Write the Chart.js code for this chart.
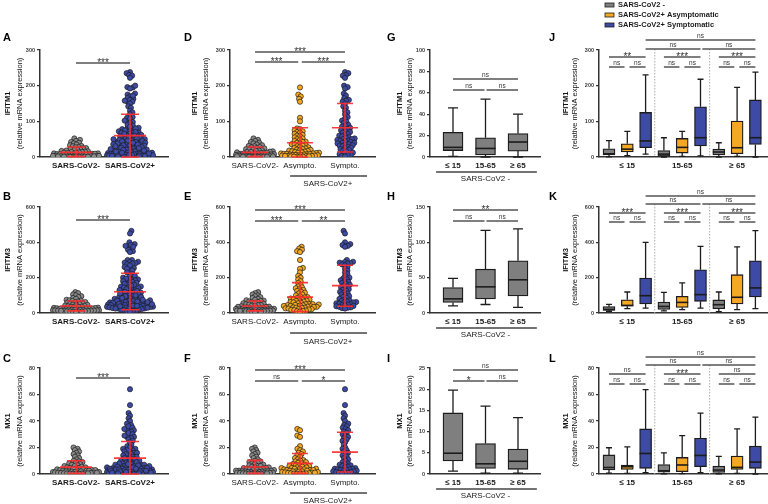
<!DOCTYPE html>
<html>
<head>
<meta charset="utf-8">
<title>IFITM1 / IFITM3 / MX1 expression</title>
<script src="https://cdn.jsdelivr.net/npm/chart.js@4.4.1/dist/chart.umd.min.js"></script>
<style>
  html, body { margin: 0; padding: 0; background: #fff; }
  body { position: relative; width: 768px; height: 504px; overflow: hidden; }
  canvas { position: absolute; }
</style>
</head>
<body>
<script>
// ---- Categories / labels ----
const cats2 = ['SARS-CoV2-', 'SARS-CoV2+'];
const cats3 = ['SARS-CoV2-', 'Asympto.', 'Sympto.'];
const ageGroups = ['≤ 15', '15-65', '≥ 65'];
const legendLabels = ['SARS-CoV2 -', 'SARS-CoV2+ Asymptomatic', 'SARS-CoV2+ Symptomatic'];
const posLabel = 'SARS-CoV2+';
const negLabel = 'SARS-CoV2 -';

// ---- Y ticks ----
const ifitm1Ticks = [0, 100, 200, 300];
const ifitm3Ticks = [0, 200, 400, 600];
const mx1Ticks = [0, 20, 40, 60, 80];
const ifitm1AgeTicks = [0, 20, 40, 60, 80, 100];
const ifitm3AgeTicks = [0, 50, 100, 150];
const mx1AgeTicks = [0, 5, 10, 15, 20, 25];

// ---- Individual values ----
const ifitm1Neg = [52, 48, 45, 42, 40, 38, 35, 33, 31, 30, 28, 27, 25, 24, 22, 21, 20, 19, 18, 17, 16, 15, 14, 14, 13, 12, 12, 11, 10, 10, 9, 9, 8, 8, 7, 7, 6, 6, 6, 5, 5, 5, 4, 4, 4, 3, 3, 3, 3, 2, 2, 2, 2, 1, 1, 1, 1, 1, 0.5, 0.5, 0.5, 0.3];
const ifitm1Asy = [195, 175, 170, 163, 155, 110, 100, 80, 78, 75, 72, 70, 68, 65, 62, 60, 58, 55, 52, 50, 48, 45, 43, 42, 40, 38, 36, 35, 33, 32, 30, 28, 27, 25, 24, 22, 21, 20, 19, 18, 17, 16, 15, 14, 13, 12, 12, 11, 10, 10, 9, 9, 8, 8, 7, 7, 6, 6, 5, 5, 5, 4, 4, 3, 3, 3, 2, 2, 2, 1, 1, 1, 0.5];
const ifitm1Sym = [238, 235, 230, 228, 222, 200, 196, 192, 178, 172, 165, 160, 158, 155, 150, 142, 138, 130, 125, 120, 112, 108, 102, 98, 95, 90, 88, 85, 82, 80, 78, 75, 72, 70, 68, 65, 62, 60, 58, 55, 54, 52, 50, 50, 48, 46, 45, 44, 42, 40, 40, 38, 36, 35, 33, 32, 30, 28, 26, 25, 22, 20, 18, 15, 12, 10, 8, 6, 5, 3, 2];

const ifitm3Neg = [118, 112, 105, 100, 95, 90, 85, 80, 75, 72, 70, 68, 65, 62, 60, 58, 55, 52, 50, 48, 46, 44, 42, 40, 38, 36, 35, 34, 32, 30, 29, 28, 27, 26, 25, 24, 23, 22, 21, 20, 20, 19, 18, 18, 17, 16, 16, 15, 15, 14, 14, 13, 12, 12, 11, 10, 10, 9, 8, 8, 7, 6];
const ifitm3Asy = [375, 365, 358, 350, 345, 300, 255, 250, 230, 210, 200, 190, 180, 170, 160, 150, 145, 140, 135, 130, 125, 120, 115, 110, 105, 100, 95, 90, 88, 85, 82, 80, 78, 75, 72, 70, 68, 65, 62, 60, 58, 55, 52, 50, 50, 48, 46, 45, 44, 42, 40, 40, 38, 36, 35, 34, 32, 30, 30, 28, 26, 25, 24, 22, 20, 18, 16, 14, 12, 10, 8];
const ifitm3Sym = [465, 450, 400, 390, 385, 380, 375, 300, 290, 288, 285, 282, 280, 275, 270, 260, 250, 240, 230, 220, 210, 200, 195, 190, 185, 180, 175, 170, 165, 160, 155, 150, 145, 140, 135, 130, 125, 120, 115, 110, 105, 100, 95, 90, 85, 80, 75, 70, 68, 65, 62, 60, 58, 55, 52, 50, 48, 45, 42, 40, 38, 35, 32, 30, 28, 25];

const mx1Neg = [20, 19, 18, 17, 16, 15, 14, 13, 12, 11, 10, 9.5, 9, 8.5, 8, 7.5, 7, 6.5, 6, 6, 5.5, 5, 5, 4.5, 4.5, 4, 4, 3.5, 3.5, 3, 3, 3, 2.5, 2.5, 2.5, 2, 2, 2, 2, 1.8, 1.5, 1.5, 1.5, 1.2, 1, 1, 1, 0.8, 0.8, 0.6, 0.5, 0.5, 0.4, 0.3, 0.3, 0.2, 0.2, 0.1];
const mx1Asy = [34, 33, 29, 28, 21, 19, 18, 17, 16, 15, 14, 13, 12, 11, 10.5, 10, 9.5, 9, 8.5, 8, 7.5, 7, 7, 6.5, 6, 6, 5.5, 5, 5, 4.5, 4.5, 4, 4, 4, 3.5, 3.5, 3, 3, 3, 2.5, 2.5, 2, 2, 2, 1.8, 1.5, 1.5, 1.2, 1, 1, 0.8, 0.6, 0.5, 0.4, 0.3, 0.2, 0.2, 0.1];
const mx1Sym = [64, 52, 46, 44, 42, 40, 38, 37, 36, 35, 34, 33, 32, 31, 30, 29, 28, 27, 26, 25, 24, 22, 20, 19, 18, 17, 16, 15, 14, 13, 12, 11, 10, 9, 8, 7.5, 7, 6.5, 6, 5.5, 5, 4.5, 4, 4, 3.5, 3.5, 3, 3, 2.5, 2.5, 2, 2, 1.5, 1.5, 1, 1, 0.5, 0.5];

// ---- Mean and SD bars [lower, mean, upper] ----
const errA = [[1, 13, 28], [0, 60, 120]];
const errD = [[1, 13, 28], [0, 40, 82], [14, 82, 150]];
const errB = [[12, 40, 68], [18, 120, 225]];
const errE = [[12, 40, 68], [8, 90, 172], [38, 155, 270]];
const errC = [[0.5, 5.2, 10], [0, 12, 24.5]];
const errF = [[0.5, 5.3, 10.3], [0.5, 8, 15.5], [1.5, 16.5, 31.5]];

// ---- Box plots [min, q1, median, q3, max] per age group ----
const ifitm1NegBox = [[0.5, 6, 9, 23, 46], [0, 2, 8, 18, 54], [0, 5.5, 14, 22, 40]];
const ifitm1AsyBox = [[4, 14, 22, 37, 72], [2, 11, 27, 52, 72], [2, 9, 26, 101, 195]];
const ifitm1SymBox = [[8, 26, 45, 125, 230], [3, 31, 54, 141, 218], [0, 35, 54, 160, 238]];
const ifitm3NegBox = [[10, 15, 20, 36, 49], [12, 20, 37, 62, 117], [8, 24, 47, 74, 119]];
const ifitm3AsyBox = [[25, 38, 43, 75, 119], [19, 32, 60, 94, 170], [19, 51, 89, 217, 374]];
const ifitm3SymBox = [[28, 51, 98, 198, 400], [28, 66, 104, 245, 377], [25, 91, 142, 296, 466]];
const mx1NegBox = [[0.7, 3.1, 4.9, 14.4, 19.8], [0.2, 1.3, 2.4, 7.2, 16], [0.2, 1.1, 3.0, 5.9, 13.3]];
const mx1AsyBox = [[0.5, 3.5, 5.5, 6.8, 20.5], [0.3, 1.8, 6.8, 12.5, 29], [0.5, 3.5, 5, 13.5, 34]];
const mx1SymBox = [[1, 4.3, 15.5, 34, 63.7], [1, 5.5, 14, 27, 46], [0, 4.3, 9, 21, 43]];

// ---- Significance labels ----
const sigA = ['***'], sigB = ['***'], sigC = ['***'];
const sigD = ['***', '***', '***'];
const sigE = ['***', '***', '**'];
const sigF = ['***', 'ns', '*'];
const sigG = ['ns', 'ns', 'ns'];
const sigH = ['**', 'ns', 'ns'];
const sigI = ['ns', '*', 'ns'];
// top, [across ages], [per age group], [pairs]
const sigJ = ['ns', ['ns', 'ns'], ['**', '***', '***'], ['ns', 'ns', 'ns', 'ns', 'ns', 'ns']];
const sigK = ['ns', ['ns', 'ns'], ['***', '***', '***'], ['ns', 'ns', 'ns', 'ns', 'ns', 'ns']];
const sigL = ['ns', ['ns', 'ns'], ['ns', '***', 'ns'], ['ns', 'ns', 'ns', 'ns', 'ns', 'ns']];

// ---- Styling / layout ----
const FONT = "'Liberation Sans', Arial, sans-serif";
const COL = { gray: '#8a8a8a', boxGray: '#7f7f7f', orange: '#f7a823', blue: '#3d4aa6', edge: '#1c1c1c', red: 'rgba(255,45,45,0.92)', axis: '#333' };
const YW = 26, XH = 12;
const cols = [
  { x: 0,   w: 182, l: 40,  r: 168, c0: 76,  sp: 54,   tt: [-32, -20], lx: 3 },
  { x: 182, w: 201, l: 230, r: 375, c0: 255, sp: 45,   tt: [-35, -24], lx: 184 },
  { x: 383, w: 163, l: 430, r: 540, c0: 453, sp: 32.5, tt: [-30, -20], lx: 387 },
  { x: 546, w: 222, l: 599, r: 767, c0: 609, sp: 18.3, tt: [-33, -24], lx: 549 }
];
const rows = [
  { y: 0,   h: 192, top: 50,  bot: 157, ly: 38 },
  { y: 186, h: 164, top: 207, bot: 313, ly: 197 },
  { y: 346, h: 158, top: 368, bot: 474, ly: 359 }
];

function makeCanvas(col, row) {
  const c = document.createElement('canvas');
  c.width = col.w; c.height = row.h;
  c.style.left = col.x + 'px'; c.style.top = row.y + 'px';
  c.style.width = col.w + 'px'; c.style.height = row.h + 'px';
  document.body.appendChild(c);
  return c;
}

function baseOptions(col, row, yTicks, xVals, xLabels, xBold) {
  return {
    responsive: false, animation: false, devicePixelRatio: 1,
    layout: { padding: { left: col.l - col.x - YW, top: row.top - row.y, right: col.x + col.w - col.r, bottom: row.y + row.h - row.bot - XH } },
    plugins: { legend: { display: false }, tooltip: { enabled: false } },
    scales: {
      x: {
        type: 'linear', offset: false,
        min: (col.l - col.c0) / col.sp, max: (col.r - col.c0) / col.sp,
        afterBuildTicks: s => { s.ticks = xVals.map(v => ({ value: v })); },
        afterFit: s => { s.height = XH; },
        ticks: { autoSkip: false, maxRotation: 0, minRotation: 0, padding: 4, color: '#1a1a1a',
                 font: { family: FONT, size: 8, weight: xBold ? 'bold' : 'normal' },
                 callback: (v, i) => xLabels[i] },
        grid: { display: false, drawTicks: false },
        border: { display: true, color: COL.axis, width: 1.5 }
      },
      y: {
        min: 0, max: yTicks[yTicks.length - 1],
        afterBuildTicks: s => { s.ticks = yTicks.map(v => ({ value: v })); },
        afterFit: s => { s.width = YW; },
        ticks: { padding: 2, color: '#3a3a3a', font: { family: FONT, size: 5.5, weight: 'bold' } },
        grid: { drawOnChartArea: false, drawTicks: true, tickLength: 3, color: COL.axis, lineWidth: 1.2 },
        border: { display: true, color: COL.axis, width: 1.5 }
      }
    }
  };
}

// sig bracket: x values a..b, page y
function drawSig(ctx, xs, row, a, b, y, text) {
  const yy = y - row.y;
  ctx.strokeStyle = '#555';
  ctx.lineWidth = 1.5;
  ctx.beginPath();
  ctx.moveTo(xs.getPixelForValue(a), yy);
  ctx.lineTo(xs.getPixelForValue(b), yy);
  ctx.stroke();
  const cx = (xs.getPixelForValue(a) + xs.getPixelForValue(b)) / 2;
  ctx.fillStyle = '#333';
  ctx.textAlign = 'center';
  ctx.textBaseline = 'alphabetic';
  if (text === 'ns') {
    ctx.font = `6.5px ${FONT}`;
    ctx.fillText(text, cx, yy - 2);
  } else {
    ctx.font = `10px ${FONT}`;
    ctx.fillText(text, cx, yy + 2.5);
  }
}

function decor(col, row, letter, gene, extra) {
  return {
    id: 'decor',
    beforeDatasetsDraw(chart) { if (extra.before) extra.before(chart); },
    afterDatasetsDraw(chart) { if (extra.after) extra.after(chart); },
    afterDraw(chart) {
      const ctx = chart.ctx, area = chart.chartArea, xs = chart.scales.x;
      ctx.save();
      ctx.fillStyle = '#000';
      ctx.font = `bold 11px ${FONT}`;
      ctx.textAlign = 'left'; ctx.textBaseline = 'middle';
      ctx.fillText(letter, col.lx - col.x, row.ly - row.y);
      const midY = (area.top + area.bottom) / 2;
      ctx.save();
      ctx.translate(area.left + col.tt[0], midY);
      ctx.rotate(-Math.PI / 2);
      ctx.textAlign = 'center'; ctx.textBaseline = 'middle';
      ctx.fillStyle = '#111';
      ctx.font = `bold 7.5px ${FONT}`;
      ctx.fillText(gene, 0, 0);
      ctx.restore();
      ctx.save();
      ctx.translate(area.left + col.tt[1], midY);
      ctx.rotate(-Math.PI / 2);
      ctx.textAlign = 'center'; ctx.textBaseline = 'middle';
      ctx.fillStyle = '#111';
      ctx.font = `7.5px ${FONT}`;
      ctx.fillText('(relative mRNA expression)', 0, 0);
      ctx.restore();
      (extra.sig || []).forEach(s => drawSig(ctx, xs, row, s[0], s[1], s[2], s[3]));
      if (extra.under) {
        const u = extra.under;
        ctx.strokeStyle = '#444'; ctx.lineWidth = 1.3;
        ctx.beginPath();
        ctx.moveTo(xs.getPixelForValue(u.a), u.y - row.y);
        ctx.lineTo(xs.getPixelForValue(u.b), u.y - row.y);
        ctx.stroke();
        ctx.fillStyle = '#1a1a1a';
        ctx.font = `8px ${FONT}`;
        ctx.textAlign = 'center'; ctx.textBaseline = 'middle';
        ctx.fillText(u.text, xs.getPixelForValue(u.c), u.ty - row.y);
      }
      if (extra.last) extra.last(chart);
      ctx.restore();
    }
  };
}

// beeswarm offsets in pixels from the y pixel positions
function swarmOffsets(pixY, dmin, maxHalf) {
  const order = pixY.map((y, i) => i).sort((a, b) => pixY[b] - pixY[a]);
  const placed = [];
  const out = new Array(pixY.length);
  order.forEach((i, n) => {
    const y = pixY[i];
    const near = placed.filter(q => Math.abs(q.y - y) < dmin);
    const cands = [0];
    near.forEach(q => {
      const dx = Math.sqrt(dmin * dmin - (q.y - y) * (q.y - y));
      cands.push(q.x + dx, q.x - dx);
    });
    cands.sort((a, b) => Math.abs(a) - Math.abs(b) || (n % 2 ? a - b : b - a));
    const ok = c => near.every(q => (q.x - c) * (q.x - c) + (q.y - y) * (q.y - y) >= dmin * dmin - 0.01);
    let x = cands.find(ok);
    if (Math.abs(x) > maxHalf) {
      let best = 0, bestD = -1;
      for (let c = -maxHalf; c <= maxHalf; c += 1) {
        const d = Math.min(...near.map(q => Math.hypot(q.x - c, q.y - y)));
        if (d > bestD + 0.01) { bestD = d; best = c; }
      }
      x = best;
    }
    placed.push({ x, y });
    out[i] = x;
  });
  return out;
}

function scatterPanel(ci, ri, letter, gene, yTicks, groups, errs, labels, bold, sig, under) {
  const col = cols[ci], row = rows[ri];
  const cv = makeCanvas(col, row);
  const xVals = labels.map((l, i) => i);
  const datasets = groups.map((g, gi) => ({
    data: g.values.map(v => ({ x: gi, y: v })),
    backgroundColor: g.color, borderColor: COL.edge, borderWidth: 0.7,
    pointRadius: 2.6, pointHoverRadius: 2.6
  }));
  const meanHalf = ci === 0 ? 16 : 13, capHalf = ci === 0 ? 9 : 8;
  const chart = new Chart(cv, {
    type: 'scatter',
    data: { datasets },
    options: baseOptions(col, row, yTicks, xVals, labels, bold),
    plugins: [decor(col, row, letter, gene, {
      sig, under,
      after(chart) {
        const ctx = chart.ctx, xs = chart.scales.x, ys = chart.scales.y;
        ctx.save();
        ctx.strokeStyle = COL.red; ctx.lineWidth = 1.6;
        errs.forEach((e, gi) => {
          const cx = xs.getPixelForValue(gi);
          const lo = ys.getPixelForValue(e[0]), m = ys.getPixelForValue(e[1]), hi = ys.getPixelForValue(e[2]);
          ctx.beginPath();
          ctx.moveTo(cx, lo); ctx.lineTo(cx, hi);
          ctx.moveTo(cx - capHalf, lo); ctx.lineTo(cx + capHalf, lo);
          ctx.moveTo(cx - capHalf, hi); ctx.lineTo(cx + capHalf, hi);
          ctx.moveTo(cx - meanHalf, m); ctx.lineTo(cx + meanHalf, m);
          ctx.stroke();
        });
        ctx.restore();
      }
    })]
  });
  // spread the dots as a swarm around each category centre
  const xs = chart.scales.x, ys = chart.scales.y;
  const ppu = xs.getPixelForValue(1) - xs.getPixelForValue(0);
  const maxHalf = ci === 0 ? 23 : 19;
  groups.forEach((g, gi) => {
    const offs = swarmOffsets(g.values.map(v => ys.getPixelForValue(v)), 3.0, maxHalf);
    chart.data.datasets[gi].data = g.values.map((v, i) => ({ x: gi + offs[i] / ppu, y: v }));
  });
  chart.update('none');
}

function boxPanel(ci, ri, letter, gene, yTicks, sets, sig, under, bw, xVals, labels, extraLast, separators) {
  const col = cols[ci], row = rows[ri];
  const cv = makeCanvas(col, row);
  const datasets = sets.map(s => ({
    data: s.boxes.map((b, i) => ({ x: s.pos[i], y: [b[1], b[3]] })),
    backgroundColor: s.color, borderColor: COL.edge, borderWidth: 1.3,
    borderSkipped: false, barThickness: bw, grouped: false
  }));
  const capHalf = bw / 4;
  new Chart(cv, {
    type: 'bar',
    data: { datasets },
    options: baseOptions(col, row, yTicks, xVals, labels, true),
    plugins: [decor(col, row, letter, gene, {
      sig, under, last: extraLast,
      before(chart) {
        const ctx = chart.ctx, xs = chart.scales.x, ys = chart.scales.y;
        ctx.save();
        if (separators) {
          ctx.strokeStyle = '#aaa'; ctx.lineWidth = 1; ctx.setLineDash([1.5, 1.5]);
          separators.xs.forEach(v => {
            ctx.beginPath();
            ctx.moveTo(xs.getPixelForValue(v), separators.y - row.y);
            ctx.lineTo(xs.getPixelForValue(v), chart.chartArea.bottom);
            ctx.stroke();
          });
          ctx.setLineDash([]);
        }
        ctx.strokeStyle = COL.edge; ctx.lineWidth = 1.3;
        sets.forEach(s => s.boxes.forEach((b, i) => {
          const cx = xs.getPixelForValue(s.pos[i]);
          const pmin = ys.getPixelForValue(b[0]), pmax = ys.getPixelForValue(b[4]);
          ctx.beginPath();
          ctx.moveTo(cx, pmin); ctx.lineTo(cx, ys.getPixelForValue(b[1]));
          ctx.moveTo(cx, ys.getPixelForValue(b[3])); ctx.lineTo(cx, pmax);
          ctx.moveTo(cx - capHalf, pmin); ctx.lineTo(cx + capHalf, pmin);
          ctx.moveTo(cx - capHalf, pmax); ctx.lineTo(cx + capHalf, pmax);
          ctx.stroke();
        }));
        ctx.restore();
      },
      after(chart) {
        const ctx = chart.ctx, xs = chart.scales.x, ys = chart.scales.y;
        ctx.save();
        ctx.strokeStyle = COL.edge; ctx.lineWidth = 1.6;
        sets.forEach(s => s.boxes.forEach((b, i) => {
          const cx = xs.getPixelForValue(s.pos[i]);
          const pm = ys.getPixelForValue(b[2]);
          ctx.beginPath();
          ctx.moveTo(cx - bw / 2, pm); ctx.lineTo(cx + bw / 2, pm);
          ctx.stroke();
        }));
        ctx.restore();
      }
    })]
  });
}

// ---- Scatter panels A-F ----
const genes = ['IFITM1', 'IFITM3', 'MX1'];
const tickSets = [ifitm1Ticks, ifitm3Ticks, mx1Ticks];
const negSets = [ifitm1Neg, ifitm3Neg, mx1Neg];
const asySets = [ifitm1Asy, ifitm3Asy, mx1Asy];
const symSets = [ifitm1Sym, ifitm3Sym, mx1Sym];
const err2 = [errA, errB, errC];
const err3 = [errD, errE, errF];
const sig2 = [sigA, sigB, sigC];
const sig3 = [sigD, sigE, sigF];
const sig2Y = [63, 220, 378];
const sig3Y = [[52, 62], [210, 221], [370, 381]];
const underY2 = [[176, 184], [333, 342], [493, 501]];

for (let r = 0; r < 3; r++) {
  scatterPanel(0, r, 'ABC'[r], genes[r], tickSets[r],
    [{ values: negSets[r], color: COL.gray }, { values: asySets[r].concat(symSets[r]), color: COL.blue }],
    err2[r], cats2, true,
    [[0, 1, sig2Y[r], sig2[r][0]]], null);
  scatterPanel(1, r, 'DEF'[r], genes[r], tickSets[r],
    [{ values: negSets[r], color: COL.gray }, { values: asySets[r], color: COL.orange }, { values: symSets[r], color: COL.blue }],
    err3[r], cats3, false,
    [[0, 2, sig3Y[r][0], sig3[r][0]], [0, 0.96, sig3Y[r][1], sig3[r][1]], [1.04, 2, sig3Y[r][1], sig3[r][2]]],
    { a: 0.78, b: 2.49, c: 1.62, y: underY2[r][0], ty: underY2[r][1], text: posLabel });
}

// ---- Box panels G-I (SARS-CoV2 - by age) ----
const negBoxes = [ifitm1NegBox, ifitm3NegBox, mx1NegBox];
const asyBoxes = [ifitm1AsyBox, ifitm3AsyBox, mx1AsyBox];
const symBoxes = [ifitm1SymBox, ifitm3SymBox, mx1SymBox];
const ageTicks = [ifitm1AgeTicks, ifitm3AgeTicks, mx1AgeTicks];
const sigGHI = [sigG, sigH, sigI];
const sigGHIY = [[79, 90], [210, 221], [370, 381]];
const underY3 = [[172, 179], [328, 335], [489, 496]];

for (let r = 0; r < 3; r++) {
  boxPanel(2, r, 'GHI'[r], genes[r], ageTicks[r],
    [{ boxes: negBoxes[r], pos: [0, 1, 2], color: COL.boxGray }],
    [[0, 2, sigGHIY[r][0], sigGHI[r][0]], [0, 0.97, sigGHIY[r][1], sigGHI[r][1]], [1.03, 2, sigGHIY[r][1], sigGHI[r][2]]],
    { a: -0.52, b: 2.58, c: 1, y: underY3[r][0], ty: underY3[r][1], text: negLabel },
    20, [0, 1, 2], ageGroups, null, null);
}

// ---- Box panels J-L (all groups by age) ----
const sigJKL = [sigJ, sigK, sigL];
const sigJKLY = [[40, 49, 57, 67], [196, 204, 213, 222], [357, 365, 374, 384]];

for (let r = 0; r < 3; r++) {
  const s = sigJKL[r], y = sigJKLY[r];
  const sig = [
    [2, 8, y[0], s[0]],
    [2, 5, y[1], s[1][0]], [5.1, 8, y[1], s[1][1]]
  ];
  for (let g = 0; g < 3; g++) {
    sig.push([g * 3, g * 3 + 2, y[2], s[2][g]]);
    sig.push([g * 3, g * 3 + 0.85, y[3], s[3][g * 2]]);
    sig.push([g * 3 + 1.12, g * 3 + 2, y[3], s[3][g * 2 + 1]]);
  }
  const legend = r !== 0 ? null : chart => {
    const ctx = chart.ctx;
    const colors = [COL.boxGray, COL.orange, COL.blue];
    const ly = [5, 15, 25];
    ctx.font = `bold 7.5px ${FONT}`;
    ctx.textAlign = 'left'; ctx.textBaseline = 'middle';
    legendLabels.forEach((t, i) => {
      ctx.fillStyle = colors[i];
      ctx.fillRect(605 - cols[3].x, ly[i] - 2, 9, 4);
      ctx.strokeStyle = COL.edge; ctx.lineWidth = 0.8;
      ctx.strokeRect(605 - cols[3].x, ly[i] - 2, 9, 4);
      ctx.fillStyle = '#1a1a1a';
      ctx.fillText(t, 618 - cols[3].x, ly[i]);
    });
  };
  boxPanel(3, r, 'JKL'[r], genes[r], tickSets[r],
    [{ boxes: negBoxes[r], pos: [0, 3, 6], color: COL.boxGray },
     { boxes: asyBoxes[r], pos: [1, 4, 7], color: COL.orange },
     { boxes: symBoxes[r], pos: [2, 5, 8], color: COL.blue }],
    sig, null, 12, [1, 4, 7], ageGroups, legend, { xs: [2.5, 5.5], y: y[1] });
}
</script>
</body>
</html>
